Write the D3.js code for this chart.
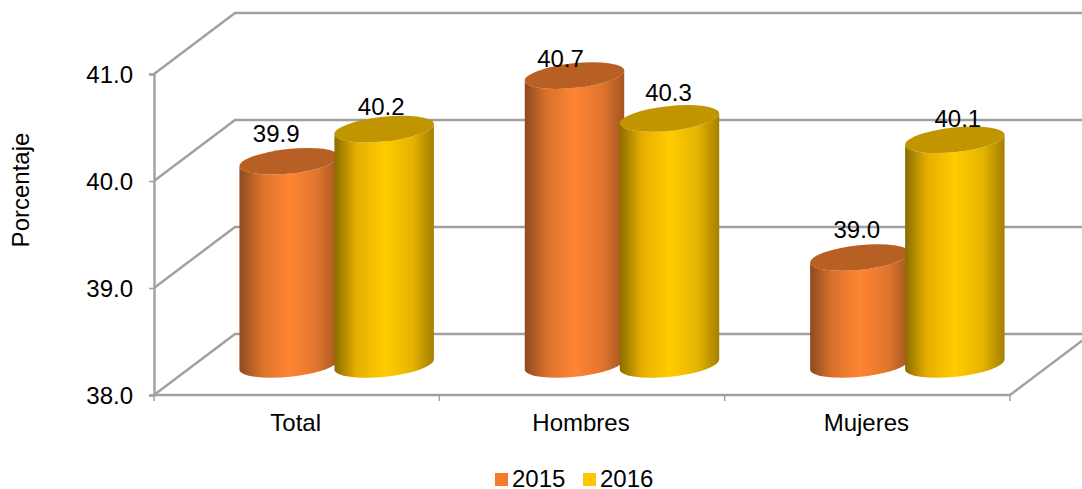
<!DOCTYPE html>
<html><head><meta charset="utf-8">
<script src="https://cdn.jsdelivr.net/npm/d3@7"></script>
<style>
html,body{margin:0;padding:0;background:#fff}
svg{display:block}
text{font-family:"Liberation Sans",Arial,sans-serif;font-size:24px;fill:#000}
</style></head><body>
<svg id="c" width="1082" height="489"></svg>
<script>
const categories = ["Total","Hombres","Mujeres"];
const seriesNames = ["2015","2016"];
const values2015 = [39.9,40.7,39.0];
const values2016 = [40.2,40.3,40.1];
const yTicks = [38,39,40,41];
const yTitle = "Porcentaje";
const seriesColors = {
  "2015":{legend:"#f47b2c",top:"#b86024",stops:["#8f4a1f","#d9712c","#ff8533","#e0752e","#a3561f"]},
  "2016":{legend:"#ffc600",top:"#c09500",stops:["#8a6c00","#e6ae00","#ffcc00","#e6b400","#a38000"]}
};
// hand placement of the value labels: [dx, dy] relative to the cylinder top
const labelNudge = {"2015":[[-13,-19],[-14,-9],[-3,-20]],"2016":[[-3,-14],[-1,-17],[3,-13]]};

const svg = d3.select("#c");
const plotLeft=154,plotRight=1010,plotBottom=395,plotTop=74,depthX=81,depthY=-61;
const x = d3.scaleBand().domain(categories).range([plotLeft,plotRight]);
const y = d3.scaleLinear().domain([38,41]).range([plotBottom,plotTop]);
const barW = 96;
const x1 = d3.scaleOrdinal().domain(seriesNames).range([-barW/2,barW/2-1]);

const defs = svg.append("defs");
seriesNames.forEach(s=>{
  const g = defs.append("linearGradient").attr("id","g"+s).attr("x1",0).attr("x2",1).attr("y1",0).attr("y2",0);
  const offs=[0,0.22,0.5,0.78,1];
  seriesColors[s].stops.forEach((c,i)=>g.append("stop").attr("offset",offs[i]).attr("stop-color",c));
});

const gridColor="#a0a0a0";
const grid = svg.append("g").attr("fill","none").attr("stroke",gridColor).attr("stroke-width",2.4);
yTicks.forEach(t=>{
  const v=y(t);
  grid.append("path").attr("d",`M${plotLeft},${v}L${plotLeft+depthX},${v+depthY}L${1100},${v+depthY}`);
});
grid.append("path").attr("d",`M${plotRight},${plotBottom}L${plotRight+depthX},${plotBottom+depthY}`);

const axY = svg.append("g").attr("transform",`translate(${plotLeft},0)`)
  .call(d3.axisLeft(y).tickValues(yTicks).tickFormat(d3.format(".1f")).tickSize(5).tickPadding(16));
const axX = svg.append("g").attr("transform",`translate(0,${plotBottom})`)
  .call(d3.axisBottom(x).tickSize(0).tickPadding(19));
[axY,axX].forEach(a=>{
  a.selectAll(".domain").attr("stroke",gridColor).attr("stroke-width",2.4);
  a.selectAll("line").attr("stroke",gridColor).attr("stroke-width",1.5);
  a.selectAll("text").attr("font-size",null).style("font-size","24px").attr("fill","#000");
});
axY.selectAll("text").attr("dy","0.36em");
axX.select(".domain").attr("d",`M${plotLeft},0H${plotRight}`);
axX.selectAll("text").attr("transform","translate(-1,0)");
axX.selectAll(".xt").data([0,1,2,3]).enter().append("line").attr("class","xt")
  .attr("x1",i=>plotLeft+i*x.step()).attr("x2",i=>plotLeft+i*x.step()).attr("y1",0).attr("y2",6)
  .attr("stroke",gridColor).attr("stroke-width",1.5);

// cylinders
const rx=50, ry=12.3, tilt=-6, sx=rx*Math.cos(tilt*Math.PI/180), sy=rx*Math.sin(tilt*Math.PI/180);
const rows = [];
seriesNames.forEach((s,si)=>{
  const vals = si===0?values2015:values2016;
  categories.forEach((c,i)=>rows.push({s,c,i,v:vals[i]}));
});
const cx=d=>x(d.c)+x.bandwidth()/2+depthX/2+x1(d.s);
const cyTop=d=>y(d.v)+depthY/2;
const cyBase=y(38)+depthY/2;
const bars = svg.append("g").selectAll("g").data(rows).enter().append("g");
bars.append("path")
  .attr("fill",d=>`url(#g${d.s})`)
  .attr("d",d=>{const X=cx(d),T=cyTop(d);
    return `M${X-sx},${T-sy}L${X-sx},${cyBase-sy}A${rx},${ry} ${tilt} 0 0 ${X+sx},${cyBase+sy}L${X+sx},${T+sy}A${rx},${ry} ${tilt} 0 1 ${X-sx},${T-sy}Z`;});
bars.append("ellipse")
  .attr("rx",rx).attr("ry",ry).attr("fill",d=>seriesColors[d.s].top)
  .attr("transform",d=>`translate(${cx(d)},${cyTop(d)}) rotate(${tilt})`);

svg.append("g").selectAll("text").data(rows).enter().append("text")
  .attr("text-anchor","middle")
  .attr("x",d=>cx(d)+labelNudge[d.s][d.i][0])
  .attr("y",d=>cyTop(d)+labelNudge[d.s][d.i][1])
  .text(d=>d3.format(".1f")(d.v));

svg.append("text").attr("transform","translate(29,190) rotate(-90)").attr("text-anchor","middle").text(yTitle);

const lg = svg.append("g");
const legendX = d3.scaleOrdinal().domain(seriesNames).range([495,583]);
seriesNames.forEach(s=>{
  lg.append("rect").attr("x",legendX(s)).attr("y",473).attr("width",13).attr("height",13).attr("fill",seriesColors[s].legend);
  lg.append("text").attr("x",legendX(s)+17).attr("y",487).text(s);
});
</script>
</body></html>
